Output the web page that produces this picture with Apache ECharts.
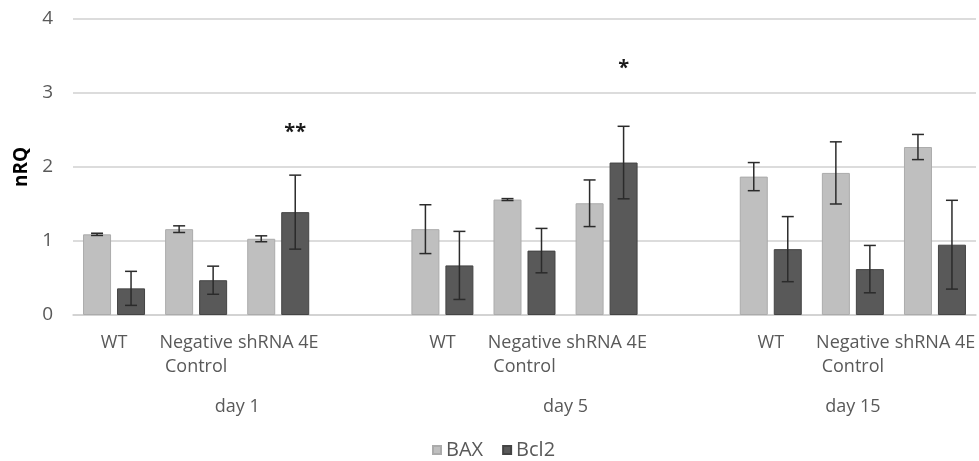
<!DOCTYPE html>
<html>
<head>
<meta charset="utf-8">
<script src="https://cdn.jsdelivr.net/npm/echarts@6/dist/echarts.min.js"></script>
<style>
  html, body { margin: 0; padding: 0; background: #ffffff; }
  #chart { width: 979px; height: 461px; }
</style>
</head>
<body>
<div id="chart"></div>
<script>
// ---- data ----
const categories = ['WT', 'Negative\nControl', 'shRNA 4E', '', 'WT', 'Negative\nControl', 'shRNA 4E', '', 'WT', 'Negative\nControl', 'shRNA 4E'];
const groupLabels = ['day 1', 'day 5', 'day 15'];
const groupCenters = [1.5, 5.5, 9];
const baxValues  = [1.09, 1.16, 1.03, '-', 1.16, 1.56, 1.51, '-', 1.87, 1.92, 2.27];
const baxErrors  = [0.015, 0.045, 0.04, '-', 0.33, 0.013, 0.315, '-', 0.19, 0.42, 0.17];
const bcl2Values = [0.36, 0.47, 1.39, '-', 0.67, 0.87, 2.06, '-', 0.89, 0.62, 0.95];
const bcl2Errors = [0.23, 0.19, 0.5, '-', 0.46, 0.3, 0.49, '-', 0.44, 0.32, 0.6];
const sigLabels  = ['', '', '**', '', '', '', '*', '', '', '', ''];
const sigLevels  = ['-', '-', 2.47, '-', '-', '-', 3.34, '-', '-', '-', '-'];
const yTicks = [0, 1, 2, 3, 4];

// ---- style ----
const FONT = "'Open Sans', sans-serif";
const TEXT = '#595959';
const BAR_W = 28;
const HALF_OFF = 17; // distance from category centre to each bar centre

const chart = echarts.init(document.getElementById('chart'), null, { renderer: 'canvas' });

function errData(vals, errs) {
  const out = [];
  vals.forEach((v, i) => { if (v !== '-') out.push([i, v, errs[i]]); });
  return out;
}

function errRender(offset) {
  return function (params, api) {
    const i = api.value(0), v = api.value(1), e = api.value(2);
    const c = api.coord([i, v]);
    const t = api.coord([i, v + e]);
    const b = api.coord([i, v - e]);
    const x = c[0] + offset;
    const style = { stroke: '#2b2b2b', lineWidth: 1.5 };
    const cap = 6;
    return {
      type: 'group',
      children: [
        { type: 'line', shape: { x1: x, y1: t[1], x2: x, y2: b[1] }, style },
        { type: 'line', shape: { x1: x - cap, y1: t[1], x2: x + cap, y2: t[1] }, style },
        { type: 'line', shape: { x1: x - cap, y1: b[1], x2: x + cap, y2: b[1] }, style }
      ]
    };
  };
}

const sigData = [];
sigLabels.forEach((s, i) => { if (s) sigData.push([i, sigLevels[i], s]); });

const dayLabelMap = {};
groupCenters.forEach((c, k) => { dayLabelMap[c.toFixed(1)] = groupLabels[k]; });

const option = {
  backgroundColor: '#ffffff',
  animation: false,
  textStyle: { fontFamily: FONT },
  grid: { left: 73, top: 19, width: 907.5, height: 296 },
  legend: {
    data: ['BAX', 'Bcl2'],
    left: 427,
    top: 435,
    icon: 'rect',
    itemWidth: 8,
    itemHeight: 8,
    itemGap: 19,
    textStyle: { color: TEXT, fontSize: 20, fontFamily: FONT }
  },
  xAxis: [
    {
      type: 'category',
      data: categories,
      axisLine: { show: true, lineStyle: { color: '#d0d0d0', width: 1.5 } },
      axisTick: { show: false },
      axisLabel: {
        interval: 0,
        color: TEXT,
        fontSize: 18,
        fontFamily: FONT,
        lineHeight: 24,
        margin: 16
      }
    },
    {
      type: 'value',
      position: 'bottom',
      min: -0.5,
      max: 10.5,
      interval: 0.5,
      axisLine: { show: false },
      axisTick: { show: false },
      splitLine: { show: false },
      axisLabel: {
        color: TEXT,
        fontSize: 18,
        fontFamily: FONT,
        lineHeight: 24,
        margin: 80,
        formatter: function (v) {
          const k = (Math.round(v * 2) / 2).toFixed(1);
          return dayLabelMap[k] || '';
        }
      }
    }
  ],
  yAxis: {
    type: 'value',
    min: 0,
    max: 4,
    interval: 1,
    name: 'nRQ',
    nameLocation: 'middle',
    nameRotate: 90,
    nameGap: 42,
    nameTextStyle: { color: '#000000', fontWeight: 'bold', fontSize: 19, fontFamily: FONT },
    axisLine: { show: false },
    axisTick: { show: false },
    axisLabel: {
      color: TEXT, fontSize: 19, fontFamily: FONT, margin: 20,
      formatter: function (v) { return yTicks.indexOf(v) >= 0 ? String(v) : ''; }
    },
    splitLine: { show: true, lineStyle: { color: '#d0d0d0', width: 1.5 } }
  },
  series: [
    {
      name: 'BAX',
      type: 'bar',
      data: baxValues,
      barWidth: BAR_W,
      barGap: '21.4%',
      itemStyle: { color: '#bfbfbf', borderColor: '#ababab', borderWidth: 1 }
    },
    {
      name: 'Bcl2',
      type: 'bar',
      data: bcl2Values,
      barWidth: BAR_W,
      barGap: '21.4%',
      itemStyle: { color: '#595959', borderColor: '#444444', borderWidth: 1 }
    },
    {
      type: 'custom',
      name: 'BAX err',
      renderItem: errRender(-HALF_OFF),
      data: errData(baxValues, baxErrors),
      z: 5,
      silent: true
    },
    {
      type: 'custom',
      name: 'Bcl2 err',
      renderItem: errRender(HALF_OFF),
      data: errData(bcl2Values, bcl2Errors),
      z: 5,
      silent: true
    },
    {
      type: 'custom',
      name: 'significance',
      data: sigData,
      z: 6,
      silent: true,
      renderItem: function (params, api) {
        const i = api.value(0), v = api.value(1);
        const c = api.coord([i, v]);
        return {
          type: 'text',
          style: {
            x: c[0] + HALF_OFF,
            y: c[1],
            text: sigData[params.dataIndex][2],
            fill: '#1a1a1a',
            font: 'bold 20px ' + FONT,
            align: 'center',
            verticalAlign: 'middle'
          }
        };
      }
    }
  ]
};

chart.setOption(option);
</script>
</body>
</html>
